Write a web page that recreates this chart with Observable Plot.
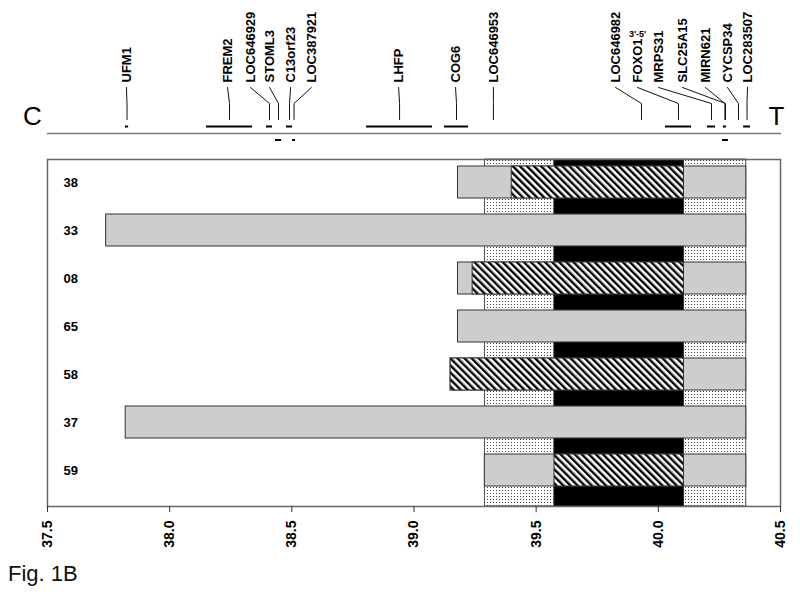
<!DOCTYPE html>
<html><head><meta charset="utf-8">
<script src="https://cdn.jsdelivr.net/npm/d3@7"></script>
<script src="https://cdn.jsdelivr.net/npm/@observablehq/plot@0.6"></script>
<style>
body{margin:0;background:#fff;font-family:"Liberation Sans",Arial,sans-serif;}
#wrap{position:relative;width:800px;height:607px;overflow:hidden;background:#fff;}
#map{position:absolute;left:0;top:0;}
#bars{position:absolute;left:0;top:150px;}
#cap{position:absolute;left:8px;top:561px;font-size:22px;color:#111;}
svg{display:block}
</style></head><body>
<svg width="0" height="0" style="position:absolute"><defs>
<pattern id="hatch" patternUnits="userSpaceOnUse" width="5" height="5" patternTransform="rotate(-45)"><rect width="5" height="5" fill="#fff"/><rect width="2.4" height="5" fill="#000"/></pattern>
<pattern id="dots" patternUnits="userSpaceOnUse" width="3" height="3"><rect width="3" height="3" fill="#fff"/><rect x="1" y="1" width="1" height="1" fill="#444"/></pattern>
</defs></svg>
<div id="wrap"><div id="map"></div><div id="bars"></div><div id="cap">Fig. 1B</div></div>
<script>
// ---- data ----
const xTicks = [37.5, 38.0, 38.5, 39.0, 39.5, 40.0, 40.5];
const samples = ["38", "33", "08", "65", "58", "37", "59"];
const barStart = [39.18, 37.74, 39.18, 39.18, 39.15, 37.82, 39.29];
const barEnd = [40.36, 40.36, 40.36, 40.36, 40.36, 40.36, 40.36];
const hatchStart = [39.40, null, 39.24, null, 39.15, null, 39.575];
const hatchEnd = [40.105, null, 40.105, null, 40.105, null, 40.105];
const bandStart = [39.29, 39.575, 40.105];
const bandEnd = [39.575, 40.105, 40.36];
const bandKind = ["dots", "solid", "dots"];

const geneNames = ["UFM1","FREM2","LOC646929","STOML3","C13orf23","LOC387921","LHFP","COG6","LOC646953","LOC646982","FOXO1","MRPS31","SLC25A15","MIRN621","CYCSP34","LOC283507"];
const labelPos  = [37.823,38.237,38.331,38.409,38.495,38.580,38.937,39.170,39.325,39.825,39.915,40.001,40.099,40.193,40.283,40.365];
const geneStart = [37.819,38.151,38.396,38.433,38.478,38.503,38.806,39.125,39.325,39.931,40.029,40.201,40.263,40.266,40.328,40.349];
const geneEnd   = [37.832,38.339,38.421,38.458,38.503,38.515,39.076,39.223,39.325,39.931,40.136,40.234,40.287,40.279,40.328,40.377];
const geneSide  = ["above","above","above","below","above","below","above","above","above","above","above","above","below","above","above","above"];
const foxoNote = "3'-5'";
const ends = ["C", "T"];

// ---- layout ----
const font = "'Liberation Sans', Arial, sans-serif";
const xScale = {domain: [37.5, 40.5]};
const Y = {labelBase: 82, leadTop: 87, bend: 103, leadBottom: 119, above: 126, chrom: 133, below: 139.5, ends: 116, note: 34};

const genes = geneNames.map((name, i) => ({name, label: labelPos[i], start: geneStart[i], end: geneEnd[i], mid: (geneStart[i] + geneEnd[i]) / 2, side: geneSide[i]}));
const leaders = genes.flatMap(g => [
  {name: g.name, x: g.label, y: Y.leadTop},
  {name: g.name, x: g.mid, y: Y.bend},
  {name: g.name, x: g.mid, y: Y.leadBottom}
]);

const mapPlot = Plot.plot({
  width: 800, height: 150, marginLeft: 47, marginRight: 20, marginTop: 0, marginBottom: 0,
  x: {...xScale, axis: null},
  y: {type: "identity", axis: null},
  style: {fontFamily: font, background: "transparent", color: "#000"},
  marks: [
    Plot.line([xScale.domain[0], xScale.domain[1]], {x: d => d, y: Y.chrom, stroke: "#777", strokeWidth: 1.5}),
    Plot.ruleY(genes, {y: d => d.side === "above" ? Y.above : Y.below, x1: "start", x2: "end", stroke: "#000", strokeWidth: 2}),
    Plot.line(leaders, {x: "x", y: "y", z: "name", stroke: "#111", strokeWidth: 1}),
    Plot.text(genes, {x: "label", y: Y.labelBase, text: "name", rotate: -90, textAnchor: "start", lineAnchor: "middle", fontWeight: "bold", fontSize: 13, fill: "#000"}),
    Plot.text([foxoNote], {x: labelPos[geneNames.indexOf("FOXO1")], y: Y.note, text: d => d, fontWeight: "bold", fontSize: 9, lineAnchor: "middle"}),
    Plot.text([ends[0]], {x: xScale.domain[0], y: Y.ends, dx: -15, text: d => d, fontSize: 26, lineAnchor: "middle"}),
    Plot.text([ends[1]], {x: xScale.domain[1], y: Y.ends, dx: -4, text: d => d, fontSize: 26, lineAnchor: "middle"})
  ]
});
document.getElementById("map").appendChild(mapPlot);

const rows = samples.map((s, i) => i);
const yTop = -0.479, yBottom = 6.75, half = 1 / 3;
const bands = bandKind.map((k, i) => i);

const barPlot = Plot.plot({
  width: 800, height: 406, marginLeft: 47, marginRight: 20, marginTop: 9, marginBottom: 50,
  x: {...xScale},
  y: {domain: [yTop, yBottom], reverse: true, axis: null},
  style: {fontFamily: font, background: "transparent", color: "#000"},
  marks: [
    Plot.rect(bands.filter(i => bandKind[i] === "dots"), {x1: i => bandStart[i], x2: i => bandEnd[i], y1: yTop, y2: yBottom, fill: "url(#dots)", stroke: "#333", strokeWidth: 0.8}),
    Plot.rect(bands.filter(i => bandKind[i] === "solid"), {x1: i => bandStart[i], x2: i => bandEnd[i], y1: yTop, y2: yBottom, fill: "#000", stroke: "#333", strokeWidth: 0.8}),
    Plot.rect(rows, {x1: i => barStart[i], x2: i => barEnd[i], y1: i => i - half, y2: i => i + half, fill: "#cdcdcd", stroke: "#333", strokeWidth: 1}),
    Plot.rect(rows.filter(i => hatchStart[i] != null), {x1: i => hatchStart[i], x2: i => hatchEnd[i], y1: i => i - half, y2: i => i + half, fill: "url(#hatch)", stroke: "#333", strokeWidth: 1}),
    Plot.text(rows, {x: xScale.domain[0], y: i => i, dx: 16, text: i => samples[i], textAnchor: "start", lineAnchor: "middle", fontWeight: "bold", fontSize: 13}),
    Plot.frame({stroke: "#666", strokeWidth: 1.5}),
    Plot.axisX({ticks: xTicks, tickSize: 6, tickFormat: () => "", stroke: "#333", label: null}),
    Plot.text(xTicks, {x: d => d, frameAnchor: "bottom", text: d => d.toFixed(1), rotate: -90, textAnchor: "end", lineAnchor: "middle", dy: 14, fontWeight: "bold", fontSize: 14})
  ]
});
document.getElementById("bars").appendChild(barPlot);
</script>
</body></html>
